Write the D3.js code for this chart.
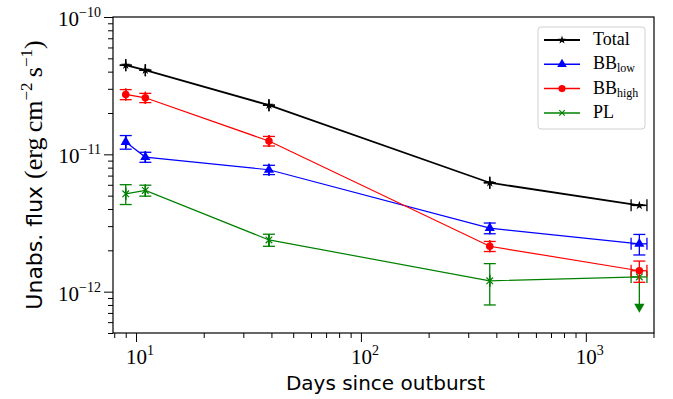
<!DOCTYPE html>
<html>
<head>
<meta charset="utf-8">
<script src="https://cdn.jsdelivr.net/npm/d3@7"></script>
<style>
  body { margin: 0; background: #fff; }
  svg { display: block; }
</style>
</head>
<body>
<div id="chart"></div>
<script>
//data
const days = [9, 11, 39, 374, 1730];
const daysErr = [0.01, 0.01, 0.05, 0.5, 140];

const total = [4.46e-11, 4.10e-11, 2.28e-11, 6.21e-12, 4.25e-12];
const totalErr = [0.01e-11, 0.01e-11, 0.005e-11, 0.01e-12, 0.01e-12];

const bbLow = [1.23e-11, 9.55e-12, 7.72e-12, 2.90e-12, 2.23e-12];
const bbLowErr = [0.14e-11, 0.8e-12, 0.6e-12, 0.26e-12, 0.38e-12];

const bbHigh = [2.73e-11, 2.58e-11, 1.25e-11, 2.14e-12, 1.42e-12];
const bbHighErr = [0.23e-11, 0.2e-11, 0.1e-11, 0.18e-12, 0.25e-12];

const pl = [5.16e-12, 5.46e-12, 2.38e-12, 1.20e-12, 1.28e-12];
const plErr = [0.85e-12, 0.5e-12, 0.24e-12, 0.4e-12, 0.53e-12];
const plUpperLimit = [false, false, false, false, true];

const xTickLabels = [{v: 10, e: '1'}, {v: 100, e: '2'}, {v: 1000, e: '3'}];
const yTickLabels = [{v: 1e-10, e: '\u221210'}, {v: 1e-11, e: '\u221211'}, {v: 1e-12, e: '\u221212'}];

const SERIF = '"Liberation Serif", "Times New Roman", "DejaVu Serif", serif';
const SANS = '"DejaVu Sans", "Liberation Sans", sans-serif';

const CONSTANTS = {
    WIDTH: 673,
    HEIGHT: 399,
    LEFT: 113,
    RIGHT: 654,
    TOP: 17,
    BOTTOM: 333,
    CAP: 6      //half width of error bar caps
};

const svg = d3.select('#chart').append('svg')
    .attr('width', CONSTANTS.WIDTH)
    .attr('height', CONSTANTS.HEIGHT);

const x = d3.scaleLog().domain([7.9, 2010]).range([CONSTANTS.LEFT, CONSTANTS.RIGHT]);
const y = d3.scaleLog().domain([5e-13, 1e-10]).range([CONSTANTS.BOTTOM, CONSTANTS.TOP]);

//axes with major and minor ticks
function buildAxes(){
    let xMinor = [];
    for (let dec = 1; dec <= 1000; dec *= 10) {
        for (let m = 1; m <= 9; m++) {
            let v = m * dec;
            if (v >= 7.9 && v <= 2010) xMinor.push(v);
        }
    }
    let yMinor = [];
    for (let dec = 1e-13; dec < 1e-10; dec *= 10) {
        for (let m = 1; m <= 9; m++) {
            let v = m * dec;
            if (v >= 4.99e-13 && v <= 1.001e-10) yMinor.push(v);
        }
    }
    const isMajor = v => Math.abs(Math.log10(v) - Math.round(Math.log10(v))) < 1e-6;

    let xg = svg.append('g')
        .attr('transform', 'translate(0,' + CONSTANTS.BOTTOM + ')')
        .call(d3.axisBottom(x).tickValues(xMinor).tickFormat('').tickSizeOuter(0));
    xg.selectAll('.tick line').attr('y2', d => isMajor(d) ? 9 : 5);

    let yg = svg.append('g')
        .attr('transform', 'translate(' + CONSTANTS.LEFT + ',0)')
        .call(d3.axisLeft(y).tickValues(yMinor).tickFormat('').tickSizeOuter(0));
    yg.selectAll('.tick line').attr('x2', d => isMajor(d) ? -9 : -5);

    svg.selectAll('.domain').remove();
    svg.selectAll('.tick line').attr('stroke', '#000').attr('stroke-width', 1);

    //frame
    svg.append('rect')
        .attr('x', CONSTANTS.LEFT).attr('y', CONSTANTS.TOP)
        .attr('width', CONSTANTS.RIGHT - CONSTANTS.LEFT)
        .attr('height', CONSTANTS.BOTTOM - CONSTANTS.TOP)
        .attr('fill', 'none').attr('stroke', '#000').attr('stroke-width', 1.2);

    //tick labels
    xTickLabels.forEach(t => {
        let txt = svg.append('text')
            .attr('x', x(t.v) + 4).attr('y', CONSTANTS.BOTTOM + 31)
            .attr('text-anchor', 'middle')
            .style('font-family', SERIF).style('font-size', '21px');
        txt.append('tspan').text('10');
        txt.append('tspan').attr('dy', -9).style('font-size', '14px').text(t.e);
    });
    yTickLabels.forEach(t => {
        let txt = svg.append('text')
            .attr('x', CONSTANTS.LEFT - 12).attr('y', y(t.v) + 9)
            .attr('text-anchor', 'end')
            .style('font-family', SERIF).style('font-size', '21px');
        txt.append('tspan').text('10');
        txt.append('tspan').attr('dy', -9).style('font-size', '14px').text(t.e);
    });

    //axis titles
    svg.append('text')
        .attr('x', (CONSTANTS.LEFT + CONSTANTS.RIGHT) / 2 + 2).attr('y', 390)
        .attr('text-anchor', 'middle')
        .style('font-family', SANS).style('font-size', '20px')
        .text('Days since outburst');

    let yl = svg.append('text')
        .attr('transform', 'translate(42,' + ((CONSTANTS.TOP + CONSTANTS.BOTTOM) / 2) + ') rotate(-90)')
        .attr('text-anchor', 'middle').style('font-size', '26px');
    yl.append('tspan').style('font-family', SANS).style('font-size', '22px').text('Unabs. flux ');
    yl.append('tspan').style('font-family', SERIF).text('(erg\u2009cm');
    yl.append('tspan').style('font-family', SERIF).attr('dy', -10).style('font-size', '17px').text('\u22122');
    yl.append('tspan').style('font-family', SERIF).attr('dy', 10).text('\u2009s');
    yl.append('tspan').style('font-family', SERIF).attr('dy', -10).style('font-size', '17px').text('\u22121');
    yl.append('tspan').style('font-family', SERIF).attr('dy', 10).text(')');
}

//draws one series: line, error bars, markers
function buildSeries(values, errs, color, symbol, symSize, lineWidth, limits){
    let g = svg.append('g');
    let pts = values.map((v, i) => ({d: days[i], de: daysErr[i], v: v, e: errs[i], lim: limits ? limits[i] : false}));

    g.append('path')
        .datum(pts)
        .attr('d', d3.line().x(p => x(p.d)).y(p => y(p.v)))
        .attr('fill', 'none').attr('stroke', color).attr('stroke-width', lineWidth);

    pts.forEach(p => {
        let cx = x(p.d), cy = y(p.v);
        //x error bar
        let x0 = x(p.d - p.de), x1 = x(p.d + p.de);
        g.append('line').attr('x1', x0).attr('x2', x1).attr('y1', cy).attr('y2', cy)
            .attr('stroke', color).attr('stroke-width', 1.3);
        [x0, x1].forEach(xx => g.append('line').attr('x1', xx).attr('x2', xx)
            .attr('y1', cy - CONSTANTS.CAP).attr('y2', cy + CONSTANTS.CAP)
            .attr('stroke', color).attr('stroke-width', 1.3));
        //y error bar
        if (p.lim) {
            let yb = y(p.v - p.e);
            g.append('line').attr('x1', cx).attr('x2', cx).attr('y1', cy).attr('y2', yb)
                .attr('stroke', color).attr('stroke-width', 1.3);
            g.append('path')
                .attr('d', d3.symbol().type(d3.symbolTriangle).size(45)())
                .attr('transform', 'translate(' + cx + ',' + (yb - 2) + ') rotate(180)')
                .attr('fill', color);
        } else {
            let y0 = y(p.v - p.e), y1 = y(p.v + p.e);
            g.append('line').attr('x1', cx).attr('x2', cx).attr('y1', y0).attr('y2', y1)
                .attr('stroke', color).attr('stroke-width', 1.3);
            [y0, y1].forEach(yy => g.append('line').attr('x1', cx - CONSTANTS.CAP).attr('x2', cx + CONSTANTS.CAP)
                .attr('y1', yy).attr('y2', yy)
                .attr('stroke', color).attr('stroke-width', 1.3));
        }
        //marker
        g.append('path')
            .attr('d', d3.symbol().type(symbol).size(symSize)())
            .attr('transform', 'translate(' + cx + ',' + cy + ')')
            .attr('fill', color).attr('stroke', color).attr('stroke-width', symbol === d3.symbolX ? 1.2 : 0);
    });
}

function buildLegend(){
    const items = [
        {name: 'Total', sub: '', color: '#000', symbol: d3.symbolStar, size: 22, lw: 1.8},
        {name: 'BB', sub: 'low', color: '#0000ff', symbol: d3.symbolTriangle, size: 40, lw: 1.5},
        {name: 'BB', sub: 'high', color: '#ff0000', symbol: d3.symbolCircle, size: 40, lw: 1.5},
        {name: 'PL', sub: '', color: '#008000', symbol: d3.symbolX, size: 22, lw: 1.5}
    ];
    svg.append('rect')
        .attr('x', 538).attr('y', 27).attr('width', 107).attr('height', 102)
        .attr('rx', 3).attr('fill', '#fff').attr('fill-opacity', 0.8)
        .attr('stroke', '#d0d0d0').attr('stroke-width', 1);
    items.forEach((it, i) => {
        let yy = 40 + i * 24.3;
        svg.append('line').attr('x1', 544).attr('x2', 580).attr('y1', yy).attr('y2', yy)
            .attr('stroke', it.color).attr('stroke-width', it.lw);
        svg.append('path')
            .attr('d', d3.symbol().type(it.symbol).size(it.size)())
            .attr('transform', 'translate(562,' + yy + ')')
            .attr('fill', it.color).attr('stroke', it.color)
            .attr('stroke-width', it.symbol === d3.symbolX ? 1.2 : 0);
        let txt = svg.append('text')
            .attr('x', 593).attr('y', yy + 5)
            .style('font-family', SERIF).style('font-size', '18px');
        txt.append('tspan').text(it.name);
        if (it.sub) txt.append('tspan').attr('dy', 3).style('font-size', '12px').text(it.sub);
    });
}

buildAxes();
buildSeries(pl, plErr, '#008000', d3.symbolX, 30, 1.2, plUpperLimit);
buildSeries(bbLow, bbLowErr, '#0000ff', d3.symbolTriangle, 45, 1.2);
buildSeries(bbHigh, bbHighErr, '#ff0000', d3.symbolCircle, 45, 1.2);
buildSeries(total, totalErr, '#000', d3.symbolStar, 25, 1.8);
buildLegend();
</script>
</body>
</html>
